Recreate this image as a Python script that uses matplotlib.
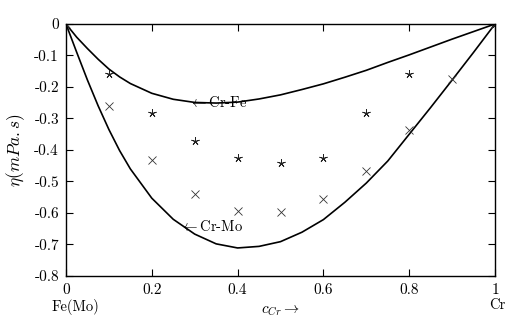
import numpy as np
import matplotlib
matplotlib.use("Agg")
import matplotlib.pyplot as plt

plt.rcParams['font.family'] = ['cmr10', 'DejaVu Serif']
plt.rcParams['mathtext.fontset'] = 'cm'
plt.rcParams['axes.unicode_minus'] = False
plt.rcParams['axes.formatter.use_mathtext'] = True

# measured points
c_data = [0.0, 0.1, 0.2, 0.3, 0.4, 0.5, 0.6, 0.7, 0.8, 1.0]
eta_crfe = [0.0, -0.159, -0.284, -0.371, -0.426, -0.441, -0.425, -0.283, -0.159, 0.0]

c_mo = [0.0, 0.1, 0.2, 0.3, 0.4, 0.5, 0.6, 0.7, 0.8, 0.9, 1.0]
eta_crmo = [0.0, -0.26, -0.432, -0.541, -0.594, -0.597, -0.556, -0.467, -0.336, -0.175, 0.0]

# model curves
c_fit = [0.0, 0.025, 0.05, 0.075, 0.1, 0.125, 0.15, 0.2, 0.25, 0.3, 0.35, 0.4, 0.45, 0.5,
         0.55, 0.6, 0.65, 0.7, 0.75, 0.8, 0.85, 0.9, 0.95, 1.0]
fit_crfe = [0.0, -0.042, -0.078, -0.112, -0.143, -0.168, -0.189, -0.22, -0.239, -0.249, -0.251,
            -0.248, -0.238, -0.225, -0.208, -0.19, -0.169, -0.147, -0.122, -0.098, -0.073,
            -0.048, -0.024, 0.0]
fit_crmo = [0.0, -0.09, -0.178, -0.26, -0.335, -0.402, -0.46, -0.553, -0.62, -0.667, -0.698,
            -0.711, -0.706, -0.691, -0.661, -0.621, -0.566, -0.505, -0.435, -0.35, -0.265,
            -0.178, -0.09, 0.0]

fig = plt.figure(figsize=(5.25, 3.31), dpi=100)
ax = fig.add_axes([0.1257, 0.1662, 0.8172, 0.7613])

ax.plot(c_fit, fit_crfe, color='black', linewidth=1.2)
ax.plot(c_fit, fit_crmo, color='black', linewidth=1.2)
ax.plot(c_data, eta_crfe, linestyle='none', marker=(5, 2, 0), markersize=6,
        markeredgewidth=0.6, color='#222222')
ax.plot(c_mo, eta_crmo, linestyle='none', marker='x', markersize=6,
        markeredgewidth=0.6, color='#333333')

ax.set_xlim(0, 1)
ax.set_ylim(-0.8, 0)
ax.set_xticks([0, 0.2, 0.4, 0.6, 0.8, 1])
ax.set_xticklabels(['0', '0.2', '0.4', '0.6', '0.8', '1'])
ax.set_yticks(np.arange(-0.8, 0.01, 0.1))
ax.set_yticklabels(['-0.8', '-0.7', '-0.6', '-0.5', '-0.4', '-0.3', '-0.2', '-0.1', '0'])
ax.tick_params(direction='in', length=5, width=0.8, top=True, right=True, labelsize=11, pad=5)
for s in ax.spines.values():
    s.set_linewidth(1.0)

ax.set_xlabel(r'$c_{Cr}\rightarrow$', fontsize=11, labelpad=5)
ax.set_ylabel(r'$\eta(mPa.s)$', fontsize=12.5, labelpad=5)

ax.text(0.022, -0.09, 'Fe(Mo)', transform=ax.transAxes, ha='center', va='top', fontsize=10.5)
ax.text(1.005, -0.09, 'Cr', transform=ax.transAxes, ha='center', va='top', fontsize=10.5)

ax.text(0.286, -0.248, r'$\leftarrow$Cr-Fe', ha='left', va='center', fontsize=10.5)
ax.text(0.266, -0.643, r'$\leftarrow$Cr-Mo', ha='left', va='center', fontsize=10.5)

fig.savefig('out.png', dpi=100)
